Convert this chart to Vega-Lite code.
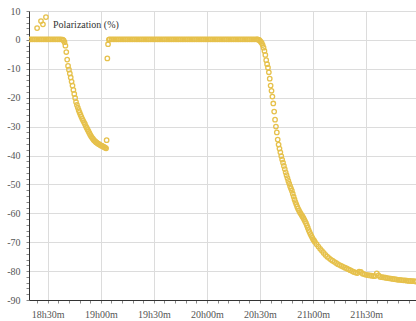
{
  "$schema": "https://vega.github.io/schema/vega-lite/v6.json",
  "width": 387,
  "height": 289,
  "autosize": {"type": "none"},
  "padding": {"left": 29, "top": 11, "right": 0, "bottom": 21},
  "background": "white",
  "config": {"view": {"stroke": null}, "font": "Liberation Serif, Times New Roman, serif"},
  "data": {
    "values": [
      {"m": 19.5, "v": 0.2}, {"m": 20.5, "v": 0.2}, {"m": 21.5, "v": 0.2}, {"m": 22.5, "v": 0.2},
      {"m": 23.5, "v": 0.2}, {"m": 24.5, "v": 0.2}, {"m": 25.5, "v": 0.2}, {"m": 26.5, "v": 0.2},
      {"m": 27.5, "v": 0.2}, {"m": 28.5, "v": 0.2}, {"m": 29.5, "v": 0.2}, {"m": 30.5, "v": 0.2},
      {"m": 31.5, "v": 0.2}, {"m": 32.5, "v": 0.2}, {"m": 33.5, "v": 0.2}, {"m": 34.5, "v": 0.2},
      {"m": 35.5, "v": 0.2}, {"m": 36.5, "v": 0.2}, {"m": 37.5, "v": 0.2}, {"m": 38.5, "v": 0.1},
      {"m": 24.0, "v": 4.1}, {"m": 26.2, "v": 6.5}, {"m": 27.3, "v": 5.4}, {"m": 29.0, "v": 7.9},
      {"m": 39.0, "v": -0.2}, {"m": 39.5, "v": -0.8}, {"m": 40.0, "v": -2.0}, {"m": 40.5, "v": -4.2},
      {"m": 41.0, "v": -6.8}, {"m": 41.5, "v": -9.0}, {"m": 42.0, "v": -10.3}, {"m": 42.5, "v": -11.6},
      {"m": 43.0, "v": -13.0}, {"m": 43.5, "v": -14.4}, {"m": 44.0, "v": -15.8}, {"m": 44.5, "v": -17.3},
      {"m": 45.0, "v": -18.7}, {"m": 45.5, "v": -20.1}, {"m": 46.0, "v": -21.5}, {"m": 46.5, "v": -22.5},
      {"m": 47.0, "v": -23.4}, {"m": 47.5, "v": -24.3}, {"m": 48.0, "v": -25.1}, {"m": 48.5, "v": -25.9},
      {"m": 49.0, "v": -26.6}, {"m": 49.5, "v": -27.3}, {"m": 50.0, "v": -27.9}, {"m": 50.5, "v": -28.5},
      {"m": 51.0, "v": -29.1}, {"m": 51.5, "v": -29.8}, {"m": 52.0, "v": -30.4}, {"m": 52.5, "v": -31.0},
      {"m": 53.0, "v": -31.6}, {"m": 53.5, "v": -32.2}, {"m": 54.0, "v": -32.8}, {"m": 54.5, "v": -33.3},
      {"m": 55.0, "v": -33.8}, {"m": 55.5, "v": -34.2}, {"m": 56.0, "v": -34.6}, {"m": 56.5, "v": -34.9},
      {"m": 57.0, "v": -35.2}, {"m": 57.5, "v": -35.5}, {"m": 58.0, "v": -35.7}, {"m": 58.5, "v": -35.9},
      {"m": 59.0, "v": -36.1}, {"m": 59.5, "v": -36.3}, {"m": 60.0, "v": -36.5}, {"m": 60.5, "v": -36.6},
      {"m": 61.0, "v": -36.8}, {"m": 61.5, "v": -37.0}, {"m": 62.0, "v": -37.1}, {"m": 62.5, "v": -37.3},
      {"m": 63.0, "v": -37.5}, {"m": 63.3, "v": -34.7}, {"m": 63.7, "v": -6.4}, {"m": 64.1, "v": -1.5},
      {"m": 64.6, "v": 0.1}, {"m": 65, "v": 0.2}, {"m": 66, "v": 0.2}, {"m": 67, "v": 0.2},
      {"m": 68, "v": 0.2}, {"m": 69, "v": 0.2}, {"m": 70, "v": 0.2}, {"m": 71, "v": 0.2},
      {"m": 72, "v": 0.2}, {"m": 73, "v": 0.2}, {"m": 74, "v": 0.2}, {"m": 75, "v": 0.2},
      {"m": 76, "v": 0.2}, {"m": 77, "v": 0.2}, {"m": 78, "v": 0.2}, {"m": 79, "v": 0.2},
      {"m": 80, "v": 0.2}, {"m": 81, "v": 0.2}, {"m": 82, "v": 0.2}, {"m": 83, "v": 0.2},
      {"m": 84, "v": 0.2}, {"m": 85, "v": 0.2}, {"m": 86, "v": 0.2}, {"m": 87, "v": 0.2},
      {"m": 88, "v": 0.2}, {"m": 89, "v": 0.2}, {"m": 90, "v": 0.2}, {"m": 91, "v": 0.2},
      {"m": 92, "v": 0.2}, {"m": 93, "v": 0.2}, {"m": 94, "v": 0.2}, {"m": 95, "v": 0.2},
      {"m": 96, "v": 0.2}, {"m": 97, "v": 0.2}, {"m": 98, "v": 0.2}, {"m": 99, "v": 0.2},
      {"m": 100, "v": 0.2}, {"m": 101, "v": 0.2}, {"m": 102, "v": 0.2}, {"m": 103, "v": 0.2},
      {"m": 104, "v": 0.2}, {"m": 105, "v": 0.2}, {"m": 106, "v": 0.2}, {"m": 107, "v": 0.2},
      {"m": 108, "v": 0.2}, {"m": 109, "v": 0.2}, {"m": 110, "v": 0.2}, {"m": 111, "v": 0.2},
      {"m": 112, "v": 0.2}, {"m": 113, "v": 0.2}, {"m": 114, "v": 0.2}, {"m": 115, "v": 0.2},
      {"m": 116, "v": 0.2}, {"m": 117, "v": 0.2}, {"m": 118, "v": 0.2}, {"m": 119, "v": 0.2},
      {"m": 120, "v": 0.2}, {"m": 121, "v": 0.2}, {"m": 122, "v": 0.2}, {"m": 123, "v": 0.2},
      {"m": 124, "v": 0.2}, {"m": 125, "v": 0.2}, {"m": 126, "v": 0.2}, {"m": 127, "v": 0.2},
      {"m": 128, "v": 0.2}, {"m": 129, "v": 0.2}, {"m": 130, "v": 0.2}, {"m": 131, "v": 0.2},
      {"m": 132, "v": 0.2}, {"m": 133, "v": 0.2}, {"m": 134, "v": 0.2}, {"m": 135, "v": 0.2},
      {"m": 136, "v": 0.2}, {"m": 137, "v": 0.2}, {"m": 138, "v": 0.2}, {"m": 139, "v": 0.2},
      {"m": 140, "v": 0.2}, {"m": 141, "v": 0.2}, {"m": 142, "v": 0.2}, {"m": 143, "v": 0.2},
      {"m": 144, "v": 0.2}, {"m": 145, "v": 0.2}, {"m": 146, "v": 0.2}, {"m": 147, "v": 0.2},
      {"m": 148, "v": 0.2}, {"m": 148.5, "v": 0.2}, {"m": 149.0, "v": 0.1}, {"m": 149.5, "v": 0.0},
      {"m": 150.0, "v": -0.3}, {"m": 150.5, "v": -0.7}, {"m": 151.0, "v": -1.1}, {"m": 151.5, "v": -1.8},
      {"m": 152.0, "v": -2.7}, {"m": 152.5, "v": -3.8}, {"m": 153.0, "v": -5.2}, {"m": 153.5, "v": -7.0},
      {"m": 154.0, "v": -8.4}, {"m": 154.5, "v": -9.6}, {"m": 155.0, "v": -11.2}, {"m": 155.5, "v": -13.4},
      {"m": 156.0, "v": -15.8}, {"m": 156.5, "v": -17.6}, {"m": 157.0, "v": -19.6}, {"m": 157.5, "v": -22.0},
      {"m": 158.0, "v": -24.8}, {"m": 158.5, "v": -27.6}, {"m": 159.0, "v": -30.0}, {"m": 159.5, "v": -32.0},
      {"m": 160.0, "v": -34.5}, {"m": 160.5, "v": -36.2}, {"m": 161.0, "v": -37.6}, {"m": 161.5, "v": -38.9},
      {"m": 162.0, "v": -40.2}, {"m": 162.5, "v": -41.4}, {"m": 163.0, "v": -42.5}, {"m": 163.5, "v": -43.6},
      {"m": 164.0, "v": -44.7}, {"m": 164.5, "v": -45.8}, {"m": 165.0, "v": -46.8}, {"m": 165.5, "v": -47.8},
      {"m": 166.0, "v": -48.8}, {"m": 166.5, "v": -49.7}, {"m": 167.0, "v": -50.6}, {"m": 167.5, "v": -51.4},
      {"m": 168.0, "v": -52.2}, {"m": 168.5, "v": -53.2}, {"m": 169.0, "v": -54.2}, {"m": 169.5, "v": -55.2},
      {"m": 170.0, "v": -56.1}, {"m": 170.5, "v": -56.9}, {"m": 171.0, "v": -57.7}, {"m": 171.5, "v": -58.4},
      {"m": 172.0, "v": -59.0}, {"m": 172.5, "v": -59.6}, {"m": 173.0, "v": -60.1}, {"m": 173.5, "v": -60.6},
      {"m": 174.0, "v": -61.1}, {"m": 174.5, "v": -61.6}, {"m": 175.0, "v": -62.2}, {"m": 175.5, "v": -62.8},
      {"m": 176.0, "v": -63.4}, {"m": 176.5, "v": -64.2}, {"m": 177.0, "v": -65.0}, {"m": 177.5, "v": -65.8},
      {"m": 178.0, "v": -66.5}, {"m": 178.5, "v": -67.2}, {"m": 179.0, "v": -67.8}, {"m": 179.5, "v": -68.4},
      {"m": 180.0, "v": -69.0}, {"m": 180.5, "v": -69.4}, {"m": 181, "v": -69.9}, {"m": 182, "v": -70.7},
      {"m": 183, "v": -71.5}, {"m": 184, "v": -72.3}, {"m": 185, "v": -73.0}, {"m": 186, "v": -73.7},
      {"m": 187, "v": -74.4}, {"m": 188, "v": -75.0}, {"m": 189, "v": -75.5}, {"m": 190, "v": -76.0},
      {"m": 191, "v": -76.4}, {"m": 192, "v": -76.8}, {"m": 193, "v": -77.2}, {"m": 194, "v": -77.6},
      {"m": 195, "v": -77.9}, {"m": 196, "v": -78.2}, {"m": 197, "v": -78.5}, {"m": 198, "v": -78.8},
      {"m": 199, "v": -79.1}, {"m": 200, "v": -79.4}, {"m": 201, "v": -79.7}, {"m": 202, "v": -80.0},
      {"m": 203, "v": -80.3}, {"m": 204, "v": -80.5}, {"m": 205, "v": -80.7}, {"m": 206, "v": -80.2},
      {"m": 207, "v": -80.3}, {"m": 208, "v": -80.9}, {"m": 209, "v": -81.1}, {"m": 210, "v": -81.3},
      {"m": 211, "v": -81.4}, {"m": 212, "v": -81.5}, {"m": 213, "v": -81.6}, {"m": 214, "v": -81.7},
      {"m": 215, "v": -81.7}, {"m": 216, "v": -80.8}, {"m": 217, "v": -81.5}, {"m": 218, "v": -82.0},
      {"m": 219, "v": -82.1}, {"m": 220, "v": -82.2}, {"m": 221, "v": -82.3}, {"m": 222, "v": -82.4},
      {"m": 223, "v": -82.5}, {"m": 224, "v": -82.6}, {"m": 225, "v": -82.7}, {"m": 226, "v": -82.8},
      {"m": 227, "v": -82.9}, {"m": 228, "v": -83.0}, {"m": 229, "v": -83.0}, {"m": 230, "v": -83.1},
      {"m": 231, "v": -83.2}, {"m": 232, "v": -83.2}, {"m": 233, "v": -83.3}, {"m": 234, "v": -83.4},
      {"m": 235, "v": -83.4}, {"m": 236, "v": -83.5}, {"m": 237, "v": -83.5}, {"m": 238, "v": -83.6}
    ]
  },
  "mark": {"type": "point", "filled": false, "strokeWidth": 1.3, "size": 20, "opacity": 1, "clip": true},
  "encoding": {
    "x": {
      "field": "m",
      "type": "quantitative",
      "scale": {"domain": [19.42, 238.17], "nice": false, "zero": false},
      "axis": {
        "title": null,
        "values": [24,30,36,42,48,54,60,66,72,78,84,90,96,102,108,114,120,126,132,138,144,150,156,162,168,174,180,186,192,198,204,210,216,222,228,234],
        "labelExpr": "datum.value % 30 == 0 ? (18 + floor(datum.value / 60)) + 'h' + (datum.value % 60 == 0 ? '00' : '30') + 'm' : ''",
        "labelOverlap": false,
        "labelFlush": false,
        "labelBound": false,
        "labelFont": "Liberation Serif, Times New Roman, serif",
        "labelFontSize": 10,
        "labelColor": "#555",
        "labelPadding": 6,
        "tickSize": 3,
        "tickColor": "#888",
        "domainColor": "#333",
        "grid": true,
        "gridColor": "#dcdcdc",
        "gridOpacity": {"condition": {"test": "datum.value % 30 == 0", "value": 1}, "value": 0}
      }
    },
    "y": {
      "field": "v",
      "type": "quantitative",
      "scale": {"domain": [-90, 10], "nice": false, "zero": false},
      "axis": {
        "title": null,
        "values": [-90,-88,-86,-84,-82,-80,-78,-76,-74,-72,-70,-68,-66,-64,-62,-60,-58,-56,-54,-52,-50,-48,-46,-44,-42,-40,-38,-36,-34,-32,-30,-28,-26,-24,-22,-20,-18,-16,-14,-12,-10,-8,-6,-4,-2,0,2,4,6,8,10],
        "labelExpr": "datum.value % 10 == 0 ? '' + datum.value : ''",
        "labelOverlap": false,
        "labelFlush": false,
        "labelBound": false,
        "labelFont": "Liberation Serif, Times New Roman, serif",
        "labelFontSize": 10,
        "labelColor": "#555",
        "labelPadding": 6,
        "tickSize": 3,
        "tickColor": "#888",
        "domainColor": "#333",
        "grid": true,
        "gridColor": "#dcdcdc",
        "gridOpacity": {"condition": {"test": "datum.value % 10 == 0", "value": 1}, "value": 0}
      }
    },
    "color": {
      "datum": "Polarization (%)",
      "type": "nominal",
      "scale": {"range": ["#e6c14c"]},
      "legend": {
        "title": null,
        "orient": "none",
        "legendX": 8,
        "legendY": 8,
        "symbolOpacity": 0,
        "labelFont": "Liberation Serif, Times New Roman, serif",
        "labelFontSize": 10,
        "labelColor": "#333"
      }
    }
  }
}
